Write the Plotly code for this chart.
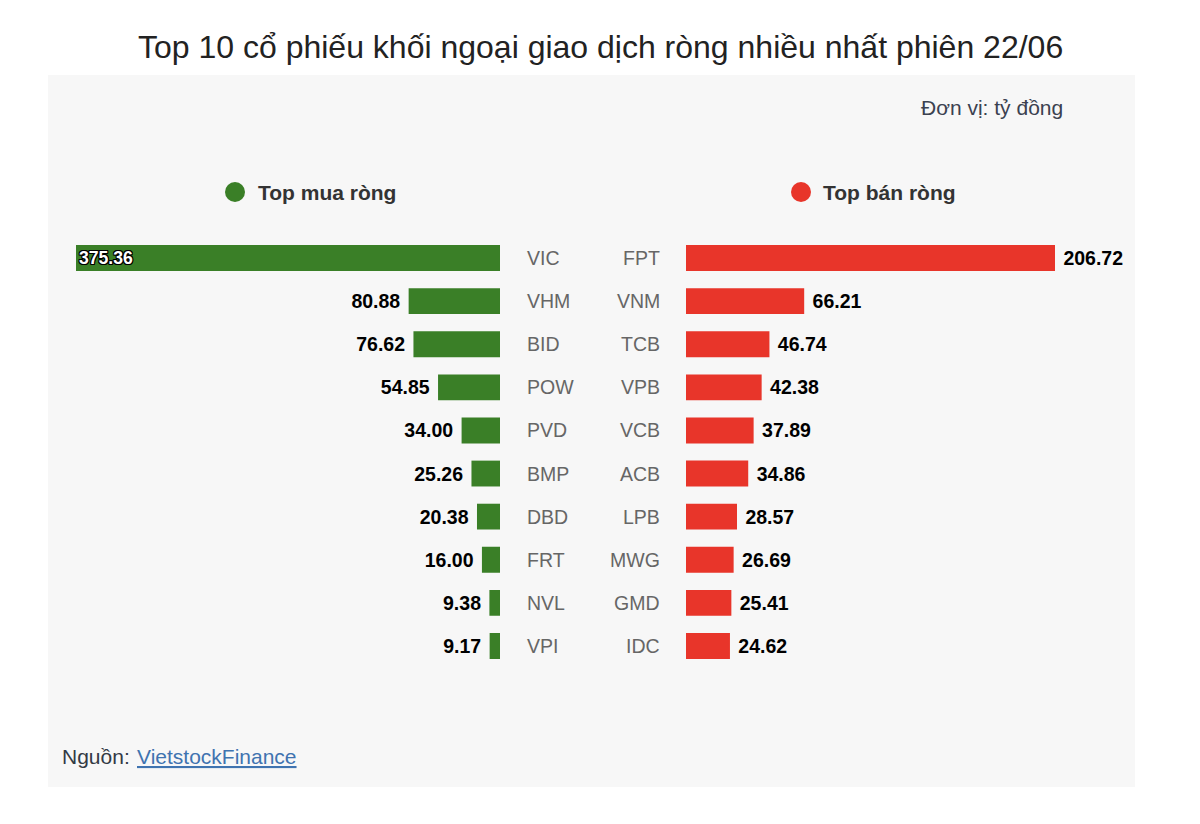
import plotly.graph_objects as go

# ---- data ----
buy_names = ["VIC", "VHM", "BID", "POW", "PVD", "BMP", "DBD", "FRT", "NVL", "VPI"]
buy_values = [375.36, 80.88, 76.62, 54.85, 34.00, 25.26, 20.38, 16.00, 9.38, 9.17]
sell_names = ["FPT", "VNM", "TCB", "VPB", "VCB", "ACB", "LPB", "MWG", "GMD", "IDC"]
sell_values = [206.72, 66.21, 46.74, 42.38, 37.89, 34.86, 28.57, 26.69, 25.41, 24.62]

title_text = "Top 10 cổ phiếu khối ngoại giao dịch ròng nhiều nhất phiên 22/06"
unit_text = "Đơn vị: tỷ đồng"
buy_label = "Top mua ròng"
sell_label = "Top bán ròng"
source_prefix = "Nguồn:"
source_link = "VietstockFinance"

W, H = 1200, 824
GREEN = "#3a7f27"
RED = "#e8352a"
FONT = "Liberation Sans, Arial, sans-serif"
NB = "\u00a0"

def px(x):
    return x / W

def py(y):
    return 1 - y / H

y_dom = [py(667.5), py(236.5)]

buy_pos = ["inside" if v == max(buy_values) else "outside" for v in buy_values]
buy_text = [f"{v:.2f}" if p == "inside" else f"{v:.2f}{NB}" for v, p in zip(buy_values, buy_pos)]

fig = go.Figure()
fig.add_trace(go.Bar(
    x=buy_values, y=buy_names, orientation="h",
    xaxis="x", yaxis="y",
    marker=dict(color=GREEN, line=dict(width=0)),
    width=0.6,
    text=buy_text,
    textposition=buy_pos,
    insidetextanchor="end",
    insidetextfont=dict(color="white", size=19.5, family=FONT, weight="bold",
                        shadow="-1px -1px 0 #000, 1px -1px 0 #000, -1px 1px 0 #000, 1px 1px 0 #000, 0 1px 0 #000, 0 -1px 0 #000, 1px 0 0 #000, -1px 0 0 #000"),
    outsidetextfont=dict(color="black", size=19.5, family=FONT, weight="bold"),
    cliponaxis=False,
    hoverinfo="skip",
))
fig.add_trace(go.Bar(
    x=sell_values, y=sell_names, orientation="h",
    xaxis="x2", yaxis="y2",
    marker=dict(color=RED, line=dict(width=0)),
    width=0.6,
    text=[f"{NB}{v:.2f}" for v in sell_values],
    textposition="outside",
    outsidetextfont=dict(color="black", size=19.5, family=FONT, weight="bold"),
    cliponaxis=False,
    hoverinfo="skip",
))

annotations = []
for n in buy_names:
    annotations.append(dict(x=px(525), xref="paper", y=n, yref="y", text=n,
                            showarrow=False, xanchor="left", yanchor="middle",
                            font=dict(size=19.5, color="#666666", family=FONT)))
for n in sell_names:
    annotations.append(dict(x=px(662), xref="paper", y=n, yref="y2", text=n,
                            showarrow=False, xanchor="right", yanchor="middle",
                            font=dict(size=19.5, color="#666666", family=FONT)))

annotations += [
    dict(x=0.5, y=py(47), xref="paper", yref="paper", text=title_text, showarrow=False,
         xanchor="center", yanchor="middle", font=dict(size=32, color="#222222", family=FONT)),
    dict(x=px(1065), y=py(108), xref="paper", yref="paper", text=unit_text, showarrow=False,
         xanchor="right", yanchor="middle", font=dict(size=21, color="#3b4150", family=FONT)),
    dict(x=px(256), y=py(192), xref="paper", yref="paper", text=f"<b>{buy_label}</b>", showarrow=False,
         xanchor="left", yanchor="middle", font=dict(size=21, color="#333333", family=FONT)),
    dict(x=px(821), y=py(192), xref="paper", yref="paper", text=f"<b>{sell_label}</b>", showarrow=False,
         xanchor="left", yanchor="middle", font=dict(size=21, color="#333333", family=FONT)),
    dict(x=px(60), y=py(756), xref="paper", yref="paper", text=source_prefix, showarrow=False,
         xanchor="left", yanchor="middle", font=dict(size=21, color="#333a45", family=FONT)),
    dict(x=px(135), y=py(756), xref="paper", yref="paper", text=source_link, showarrow=False,
         xanchor="left", yanchor="middle",
         font=dict(size=21, color="#3f73b0", family=FONT, lineposition="under")),
]

shapes = [
    dict(type="rect", xref="paper", yref="paper", x0=px(48), x1=px(1135), y0=py(787), y1=py(75),
         fillcolor="#f7f7f7", line=dict(width=0), layer="below"),
    dict(type="circle", xref="paper", yref="paper", x0=px(225), x1=px(245), y0=py(202), y1=py(182),
         fillcolor=GREEN, line=dict(width=0)),
    dict(type="circle", xref="paper", yref="paper", x0=px(791), x1=px(811), y0=py(202), y1=py(182),
         fillcolor=RED, line=dict(width=0)),
]

fig.update_layout(
    width=W, height=H, autosize=False,
    margin=dict(l=0, r=0, t=0, b=0),
    paper_bgcolor="white", plot_bgcolor="rgba(0,0,0,0)",
    showlegend=False,
    bargap=0.4,
    xaxis=dict(domain=[px(76), px(500)], range=[max(buy_values), 0], visible=False,
               anchor="y", fixedrange=True),
    xaxis2=dict(domain=[px(686), px(1055)], range=[0, max(sell_values)], visible=False,
                anchor="y2", fixedrange=True),
    yaxis=dict(domain=y_dom, autorange="reversed", visible=False, anchor="x",
               categoryorder="array", categoryarray=buy_names),
    yaxis2=dict(domain=y_dom, autorange="reversed", visible=False, anchor="x2",
                categoryorder="array", categoryarray=sell_names),
    annotations=annotations,
    shapes=shapes,
    font=dict(family=FONT),
)

fig.write_html("out.html")
